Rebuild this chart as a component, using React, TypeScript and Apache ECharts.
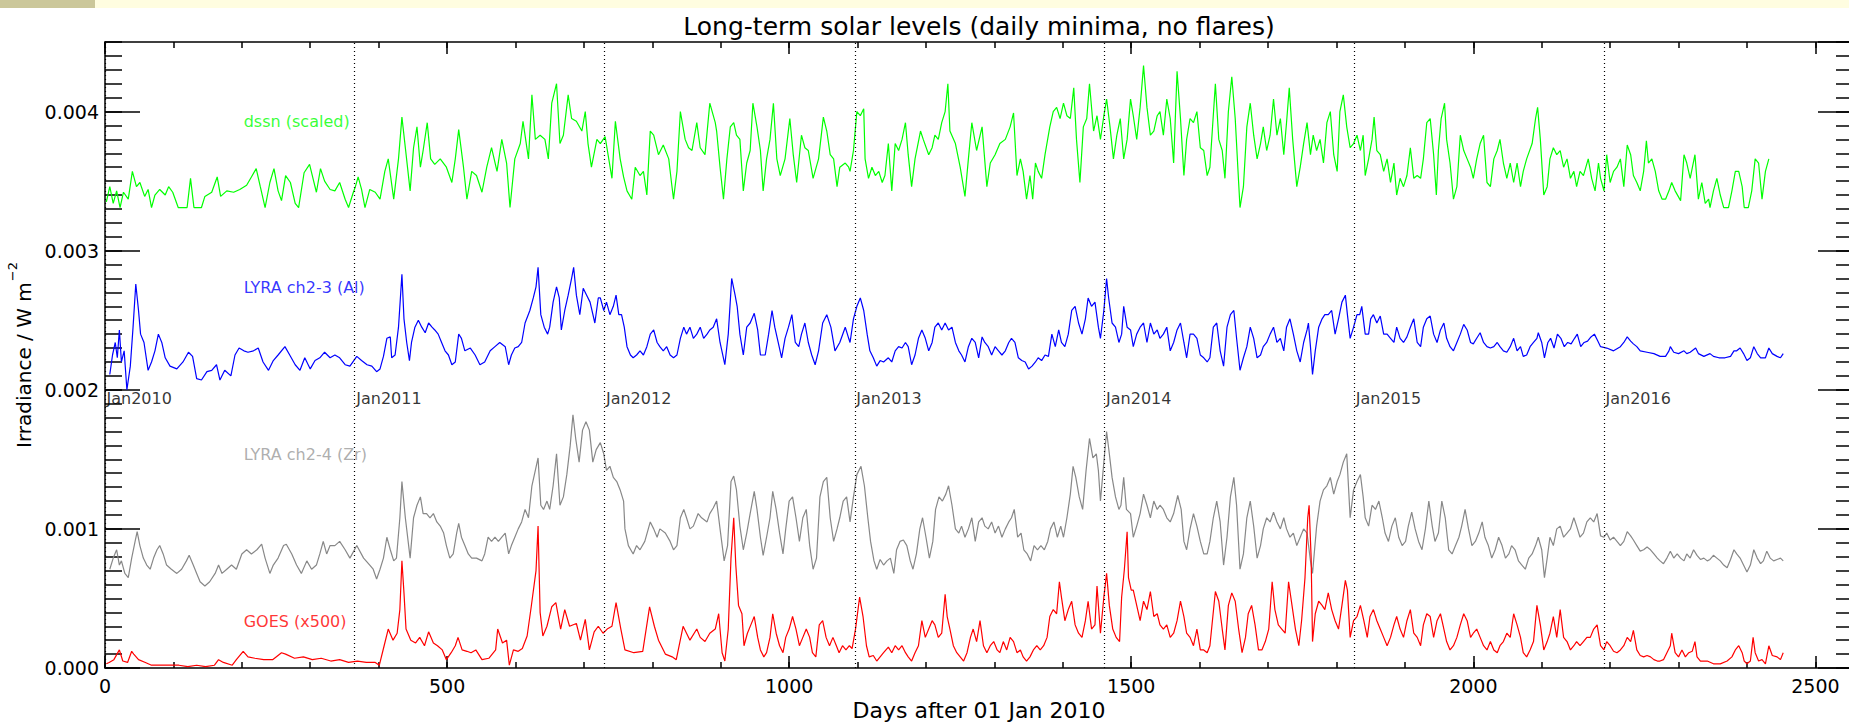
import React, { useEffect, useRef } from 'react';
import * as echarts from 'echarts';

// Values in units of 1e-3 W m^-2 (axis labels show W m^-2)
const dssnDays = [2,7,12,17,22,27,34,40,46,51,58,63,68,73,80,88,93,99,107,120,125,130,141,146,156,164,169,178,188,197,207,214,221,227,234,241,247,253,258,264,271,278,283,291,299,304,309,315,321,329,336,343,351,356,363,
366,370,375,380,387,395,402,409,414,422,429,434,439,446,451,456,461,465,471,476,482,490,499,507,512,517,524,529,536,543,551,558,565,573,580,587,592,599,607,611,619,624,629,636,643,648,653,660,665,670,677,682,689,697,702,706,711,719,
724,731,741,746,753,758,763,770,775,782,787,792,797,802,809,816,824,828,831,836,841,848,853,858,865,870,877,884,892,894,899,904,909,914,919,923,928,933,938,943,947,953,958,962,967,972,977,982,987,994,1001,1006,1011,1018,1023,1028,1035,1043,1050,1055,1060,1065,1070,1074,1082,1087,
1089,1094,1099,1104,1109,1111,1116,1121,1126,1131,1136,1140,1145,1150,1155,1160,1165,1170,1174,1179,1184,1192,1196,1204,1209,1213,1218,1223,1228,1232,1235,1243,1250,1257,1262,1267,1274,1282,1289,1294,1301,1308,1316,1323,1328,1333,1338,1342,1347,1352,1356,1360,1364,1369,1374,1381,1386,1391,1396,1401,1406,1411,1416,1420,1425,1430,1435,1439,1445,1450,
1455,1460,1464,1469,1474,1479,1484,1489,1494,1499,1503,1508,1513,1518,1523,1528,1533,1538,1542,1547,1552,1557,1562,1567,1572,1577,1581,1586,1591,1596,1601,1606,1611,1615,1623,1628,1633,1637,1642,1647,1652,1657,1659,1664,1669,1674,1679,1684,1689,1693,1698,1703,1708,1713,1718,1723,1727,1731,1736,1742,1747,1752,1757,1762,1766,1771,1776,1781,1786,1791,1796,1801,1805,1810,1815,
1820,1825,1830,1835,1839,1842,1847,1852,1855,1859,1864,1869,1874,1879,1884,1888,1893,1898,1903,1908,1913,1918,1923,1927,1932,1937,1942,1946,1949,1953,1958,1961,1966,1971,1976,1981,1986,1991,1996,2000,2005,2010,2015,2020,2025,2030,2035,2039,2044,2049,2054,2059,2064,2069,2073,2078,2086,2091,2094,2098,2103,2108,2112,2117,2122,2127,2132,2137,2142,2147,2151,2156,2161,2168,2173,2178,2183,
2186,2191,2195,2200,2205,2210,2215,2220,2225,2230,2234,2239,2244,2249,2253,2256,2261,2266,2271,2276,2281,2286,2290,2295,2303,2308,2312,2317,2324,2329,2334,2339,2344,2346,2351,2356,2361,2366,2373,2378,2383,2388,2393,2396,2402,2407,2412,2417,2422,2427,2432];
const dssnVals = [3.35,3.46,3.34,3.43,3.31,3.42,3.37,3.57,3.46,3.49,3.39,3.44,3.31,3.40,3.44,3.40,3.46,3.42,3.31,3.31,3.52,3.31,3.31,3.39,3.42,3.53,3.39,3.43,3.42,3.44,3.47,3.53,3.59,3.46,3.31,3.49,3.59,3.43,3.36,3.54,3.49,3.34,3.31,3.56,3.62,3.52,3.42,3.59,3.50,3.44,3.43,3.49,3.37,3.31,3.42,
3.46,3.53,3.44,3.31,3.44,3.42,3.37,3.57,3.66,3.37,3.66,3.96,3.74,3.43,3.74,3.89,3.60,3.72,3.92,3.66,3.62,3.66,3.60,3.49,3.66,3.87,3.60,3.37,3.57,3.54,3.42,3.60,3.74,3.57,3.80,3.63,3.31,3.66,3.77,3.93,3.66,4.12,3.80,3.83,3.80,3.66,4.06,4.20,3.77,3.83,4.12,3.95,3.93,3.86,4.00,3.77,3.60,3.80,
3.77,3.82,3.52,3.93,3.66,3.53,3.43,3.37,3.60,3.54,3.57,3.40,3.86,3.83,3.69,3.76,3.66,3.49,3.37,3.57,4.00,3.80,3.74,3.72,3.92,3.74,3.69,4.06,3.92,3.86,3.60,3.37,3.66,3.89,3.92,3.83,3.80,3.43,3.63,3.72,4.06,3.89,3.72,3.43,3.66,3.80,4.06,3.66,3.54,3.66,3.95,3.69,3.49,3.83,3.74,3.72,3.52,3.66,3.96,3.86,3.69,3.66,3.46,3.60,3.63,3.60,
3.57,3.72,4.00,3.97,4.02,3.66,3.52,3.60,3.54,3.57,3.49,3.54,3.77,3.43,3.77,3.72,3.80,3.92,3.69,3.46,3.66,3.86,3.80,3.69,3.74,3.83,3.80,3.92,4.00,4.20,3.86,3.77,3.60,3.39,3.66,3.92,3.72,3.89,3.46,3.63,3.69,3.77,3.80,3.89,3.99,3.54,3.66,3.57,3.37,3.54,3.37,3.63,3.57,3.52,3.69,3.89,4.00,4.03,3.95,4.06,3.97,3.95,4.17,3.80,3.49,3.89,3.95,4.20,3.86,3.97,
3.80,3.97,4.09,3.89,3.66,3.83,3.95,3.66,3.80,4.09,3.97,3.80,4.03,4.33,4.03,3.83,3.86,3.97,4.00,3.83,4.09,3.95,3.63,4.29,3.95,3.54,3.80,3.95,3.92,4.00,3.74,3.72,3.54,3.60,4.20,3.80,3.72,3.52,4.00,4.25,3.95,3.49,3.31,3.46,3.89,4.06,3.83,3.66,3.77,3.89,3.72,3.83,4.09,3.83,3.95,3.69,3.92,4.17,3.80,3.46,3.60,3.77,3.92,3.69,3.83,3.72,3.80,3.63,3.92,4.00,3.69,3.57,4.00,4.12,3.89,
3.74,3.77,3.83,3.72,3.83,3.54,3.66,3.80,3.96,3.72,3.69,3.57,3.66,3.49,3.63,3.40,3.52,3.46,3.54,3.74,3.52,3.54,3.52,3.66,3.92,3.95,3.69,3.40,3.72,3.95,4.06,3.80,3.63,3.37,3.46,3.83,3.72,3.66,3.60,3.52,3.66,3.77,3.83,3.49,3.46,3.66,3.72,3.80,3.63,3.52,3.63,3.49,3.63,3.46,3.57,3.66,3.77,3.95,4.03,3.80,3.40,3.46,3.66,3.74,3.69,3.72,3.60,3.66,3.52,3.57,3.46,3.57,3.54,3.66,3.52,3.43,3.63,
3.52,3.43,3.69,3.49,3.57,3.60,3.66,3.46,3.76,3.69,3.54,3.49,3.43,3.57,3.79,3.63,3.66,3.57,3.43,3.37,3.37,3.43,3.49,3.43,3.36,3.69,3.63,3.52,3.69,3.37,3.49,3.34,3.37,3.31,3.43,3.52,3.40,3.31,3.31,3.43,3.57,3.57,3.46,3.31,3.31,3.43,3.66,3.63,3.37,3.57,3.66];

const al23Days = [7,11,15,18,21,24,28,32,37,41,45,49,52,57,63,68,73,78,83,88,95,105,114,122,128,134,141,149,156,163,168,175,184,190,196,203,209,217,224,231,239,246,253,263,270,278,285,292,300,307,314,321,329,336,343,351,358,
368,375,383,390,397,402,407,412,417,419,424,429,434,437,441,445,448,453,458,463,468,473,478,482,487,492,497,502,507,512,517,521,526,534,541,548,555,563,570,577,585,590,594,599,604,609,614,621,626,630,633,637,642,647,650,655,660,664,667,672,677,682,685,689,694,699,704,709,716,721,
724,729,733,738,743,747,751,755,759,763,768,772,777,782,787,792,797,802,807,811,816,821,826,831,836,841,846,850,855,860,865,870,875,880,884,889,894,899,906,911,916,921,924,928,933,938,943,949,954,958,965,970,975,979,984,989,994,999,1004,1009,1014,1018,1023,1028,1033,1038,1043,1049,1055,1061,1067,1074,1082,1087,
1089,1094,1099,1104,1109,1114,1118,1123,1128,1133,1138,1145,1150,1155,1160,1165,1170,1174,1179,1184,1189,1194,1199,1204,1209,1213,1218,1223,1228,1233,1238,1243,1248,1252,1257,1262,1267,1272,1277,1282,1286,1291,1296,1301,1306,1311,1316,1321,1325,1330,1335,1340,1345,1350,1355,1360,1364,1369,1374,1379,1384,1389,1394,1398,1403,1408,1413,1418,1423,1428,1433,1437,1442,1447,1452,
1455,1460,1464,1467,1472,1477,1482,1486,1489,1494,1499,1503,1508,1513,1518,1523,1528,1533,1538,1542,1547,1552,1557,1562,1567,1572,1577,1581,1586,1591,1596,1601,1606,1611,1615,1620,1625,1630,1635,1640,1645,1650,1654,1659,1664,1669,1674,1679,1684,1689,1693,1698,1703,1708,1713,1718,1723,1727,1732,1737,1742,1747,1752,1757,1759,1762,1765,1769,1774,1779,1783,1788,1793,1798,1803,1808,1813,1816,
1820,1825,1830,1834,1837,1842,1847,1850,1854,1859,1864,1869,1874,1879,1884,1888,1893,1898,1903,1908,1913,1918,1923,1927,1932,1937,1942,1947,1952,1957,1961,1966,1971,1976,1981,1986,1991,1996,2000,2005,2010,2015,2020,2025,2030,2035,2039,2044,2049,2054,2059,2064,2069,2073,2078,2083,2088,2093,2095,2100,2104,2109,2113,2118,2123,2128,2133,2138,2143,2148,2152,2157,2162,2167,2172,2177,2182,
2186,2195,2205,2215,2220,2225,2230,2234,2239,2244,2254,2264,2273,2281,2286,2288,2293,2300,2308,2312,2317,2325,2329,2337,2346,2351,2359,2368,2376,2381,2385,2390,2395,2400,2405,2410,2415,2420,2427,2432,2437,2444,2449,2453];
const al23Vals = [2.11,2.25,2.34,2.23,2.43,2.20,2.28,2.00,2.17,2.45,2.76,2.57,2.40,2.34,2.14,2.20,2.28,2.40,2.34,2.23,2.17,2.15,2.20,2.27,2.24,2.08,2.07,2.13,2.14,2.18,2.07,2.14,2.10,2.25,2.30,2.28,2.27,2.28,2.30,2.20,2.14,2.21,2.25,2.31,2.25,2.18,2.14,2.23,2.15,2.21,2.23,2.27,2.23,2.25,2.23,2.18,2.17,
2.24,2.21,2.18,2.17,2.13,2.15,2.24,2.37,2.38,2.23,2.25,2.45,2.83,2.51,2.34,2.21,2.34,2.45,2.50,2.45,2.41,2.48,2.45,2.43,2.40,2.34,2.28,2.25,2.18,2.20,2.40,2.37,2.28,2.30,2.25,2.18,2.20,2.28,2.31,2.34,2.31,2.18,2.25,2.30,2.31,2.34,2.48,2.57,2.66,2.74,2.88,2.54,2.45,2.40,2.45,2.63,2.74,2.66,2.43,2.57,2.68,2.80,2.88,2.68,2.54,2.73,2.68,2.63,2.48,2.66,
2.66,2.57,2.63,2.54,2.60,2.68,2.54,2.54,2.45,2.31,2.25,2.23,2.25,2.28,2.25,2.31,2.40,2.43,2.34,2.31,2.28,2.31,2.25,2.23,2.25,2.37,2.45,2.40,2.45,2.37,2.40,2.45,2.37,2.40,2.43,2.45,2.51,2.34,2.18,2.40,2.80,2.68,2.60,2.40,2.25,2.45,2.48,2.55,2.43,2.25,2.25,2.40,2.57,2.45,2.34,2.23,2.37,2.45,2.54,2.34,2.31,2.40,2.48,2.34,2.25,2.18,2.28,2.48,2.54,2.45,2.28,2.34,2.45,2.37,
2.34,2.51,2.60,2.66,2.57,2.40,2.28,2.23,2.17,2.21,2.20,2.23,2.20,2.28,2.31,2.30,2.34,2.31,2.18,2.25,2.37,2.43,2.37,2.28,2.34,2.45,2.48,2.43,2.48,2.43,2.45,2.34,2.28,2.25,2.20,2.31,2.37,2.34,2.23,2.38,2.34,2.31,2.25,2.31,2.28,2.25,2.28,2.34,2.37,2.34,2.23,2.21,2.20,2.15,2.17,2.20,2.23,2.21,2.25,2.24,2.40,2.31,2.43,2.34,2.31,2.40,2.57,2.60,2.48,2.40,2.51,2.66,2.60,2.63,2.45,
2.37,2.57,2.80,2.66,2.48,2.45,2.34,2.40,2.60,2.45,2.43,2.31,2.40,2.45,2.48,2.34,2.48,2.40,2.43,2.37,2.40,2.45,2.28,2.34,2.43,2.48,2.34,2.23,2.40,2.40,2.37,2.25,2.23,2.20,2.23,2.45,2.48,2.28,2.17,2.45,2.54,2.57,2.37,2.14,2.23,2.31,2.45,2.37,2.23,2.25,2.31,2.34,2.40,2.45,2.34,2.37,2.28,2.45,2.51,2.40,2.28,2.20,2.34,2.43,2.48,2.31,2.11,2.28,2.45,2.51,2.54,2.54,2.57,2.40,2.51,2.63,2.68,2.54,
2.37,2.45,2.54,2.54,2.60,2.40,2.40,2.51,2.54,2.48,2.53,2.40,2.40,2.37,2.34,2.45,2.37,2.34,2.38,2.45,2.51,2.34,2.31,2.45,2.51,2.53,2.40,2.34,2.43,2.48,2.37,2.31,2.28,2.34,2.40,2.47,2.43,2.34,2.33,2.37,2.41,2.34,2.31,2.30,2.31,2.34,2.31,2.28,2.27,2.31,2.37,2.28,2.31,2.24,2.25,2.31,2.34,2.37,2.41,2.34,2.23,2.34,2.37,2.30,2.40,2.37,2.31,2.34,2.33,2.37,2.40,2.31,2.34,2.35,2.38,2.40,2.35,
2.31,2.30,2.28,2.31,2.34,2.38,2.35,2.33,2.31,2.28,2.27,2.26,2.24,2.24,2.28,2.31,2.27,2.26,2.28,2.26,2.27,2.30,2.26,2.24,2.26,2.24,2.23,2.23,2.24,2.28,2.28,2.30,2.26,2.21,2.23,2.31,2.26,2.23,2.23,2.30,2.26,2.24,2.23,2.26];

const zr24Days = [7,12,17,21,24,29,34,39,44,47,51,56,61,66,71,76,80,85,90,97,105,112,119,123,129,134,139,146,153,161,166,171,178,185,192,200,207,214,222,229,234,241,246,253,261,265,273,280,287,295,302,309,314,319,324,329,336,343,351,358,
368,378,387,392,397,402,407,412,417,422,426,431,434,439,446,451,456,461,465,470,475,480,485,490,495,499,504,509,514,517,521,526,531,536,543,551,555,560,565,570,575,580,585,590,594,599,604,609,614,619,624,629,633,637,641,646,650,655,660,665,670,675,680,684,688,693,698,703,708,713,718,
724,729,733,738,743,748,753,758,760,765,772,777,782,789,797,802,807,811,819,826,831,836,841,846,850,855,860,867,872,880,884,889,894,899,905,910,915,919,923,928,933,938,943,949,953,958,962,967,972,976,981,986,991,995,1000,1005,1010,1015,1020,1025,1030,1035,1040,1045,1050,1055,1060,1065,1070,1074,1079,1084,
1089,1094,1099,1105,1110,1115,1119,1124,1128,1133,1138,1143,1148,1153,1157,1162,1167,1172,1177,1181,1186,1191,1195,1200,1205,1210,1214,1219,1224,1229,1233,1238,1243,1248,1252,1257,1262,1267,1272,1277,1282,1286,1291,1296,1301,1306,1311,1316,1321,1325,1329,1334,1339,1343,1348,1353,1358,1363,1368,1373,1378,1382,1387,1392,1397,1401,1406,1411,1415,1419,1424,1429,1434,1439,1444,1449,1452,
1455,1460,1464,1468,1472,1477,1482,1485,1489,1493,1499,1503,1508,1513,1518,1523,1528,1533,1538,1542,1547,1552,1557,1562,1568,1573,1577,1581,1586,1591,1596,1601,1606,1611,1615,1620,1625,1630,1635,1640,1645,1650,1654,1659,1664,1669,1674,1679,1684,1689,1693,1698,1703,1708,1713,1718,1723,1727,1732,1737,1742,1747,1752,1757,1762,1765,1771,1776,1781,1786,1791,1796,1801,1805,1810,1815,
1820,1825,1830,1835,1839,1842,1847,1852,1857,1862,1867,1871,1876,1881,1886,1891,1896,1901,1905,1910,1915,1920,1925,1930,1935,1940,1944,1949,1954,1959,1964,1969,1974,1979,1983,1988,1993,1998,2003,2008,2013,2017,2022,2027,2032,2037,2042,2047,2052,2056,2061,2066,2071,2076,2081,2086,2091,2095,2100,2104,2108,2112,2117,2122,2127,2132,2137,2142,2147,2151,2156,2161,2166,2171,2176,2181,
2186,2191,2195,2200,2205,2210,2215,2220,2225,2230,2234,2239,2244,2249,2254,2259,2264,2269,2273,2278,2283,2288,2293,2298,2303,2308,2312,2317,2322,2327,2332,2337,2342,2346,2351,2356,2361,2366,2371,2376,2381,2385,2390,2395,2400,2405,2410,2415,2420,2424,2429,2434,2439,2444,2449,2453];
const zr24Vals = [0.71,0.79,0.85,0.74,0.77,0.68,0.65,0.79,0.91,0.98,0.88,0.79,0.74,0.71,0.79,0.85,0.88,0.82,0.74,0.71,0.68,0.71,0.77,0.81,0.74,0.68,0.62,0.59,0.62,0.68,0.74,0.68,0.71,0.74,0.71,0.82,0.85,0.82,0.85,0.89,0.79,0.68,0.74,0.79,0.88,0.89,0.82,0.74,0.68,0.77,0.71,0.74,0.82,0.91,0.82,0.88,0.88,0.91,0.85,0.79,
0.88,0.79,0.74,0.71,0.64,0.71,0.79,0.94,0.85,0.77,0.79,1.08,1.34,1.08,0.79,1.08,1.17,1.23,1.11,1.11,1.08,1.11,1.05,1.02,0.97,0.88,0.79,0.82,0.97,1.04,0.94,0.88,0.82,0.79,0.79,0.77,0.82,0.94,0.91,0.94,0.91,0.94,0.97,0.82,0.88,0.94,1.00,1.05,1.14,1.08,1.31,1.42,1.51,1.17,1.14,1.20,1.14,1.31,1.54,1.17,1.23,1.39,1.60,1.82,1.65,1.48,1.71,1.77,1.71,1.48,1.57,
1.62,1.54,1.42,1.45,1.37,1.34,1.28,1.20,1.00,0.88,0.82,0.88,0.85,0.91,1.05,1.00,0.94,1.00,0.97,0.91,0.85,0.88,1.08,1.14,1.08,1.00,1.02,1.11,1.08,1.05,1.11,1.15,1.20,1.00,0.77,0.88,1.34,1.38,1.28,1.02,0.85,0.97,1.11,1.27,1.14,0.94,0.81,0.94,1.08,1.27,1.14,0.97,0.82,1.00,1.20,1.23,1.08,0.91,1.08,1.14,0.88,0.71,0.79,1.23,1.34,1.37,1.08,0.91,1.00,1.08,1.20,1.23,
1.05,1.23,1.39,1.45,1.31,1.08,0.91,0.77,0.71,0.78,0.74,0.77,0.79,0.68,0.85,0.91,0.92,0.88,0.77,0.71,0.82,1.00,1.08,0.94,0.79,0.91,1.14,1.23,1.20,1.25,1.31,1.17,1.00,0.97,1.02,0.94,1.00,1.08,0.91,1.05,1.08,1.02,1.00,1.05,0.97,1.02,0.94,1.00,1.05,1.08,1.14,0.94,0.97,0.85,0.82,0.77,0.88,0.85,0.88,0.85,0.91,1.00,1.05,0.94,1.02,0.94,1.08,1.25,1.45,1.37,1.23,1.14,1.42,1.65,1.51,1.54,1.42,
1.20,1.48,1.70,1.54,1.37,1.23,1.14,1.17,1.37,1.14,1.11,0.94,1.02,1.11,1.25,1.17,1.08,1.20,1.14,1.17,1.14,1.08,1.05,1.11,1.24,1.14,0.91,0.85,1.00,1.11,1.02,0.91,0.82,0.82,0.91,1.08,1.20,1.05,0.74,0.94,1.23,1.37,1.17,0.71,0.82,1.08,1.20,1.02,0.79,0.88,1.00,1.08,1.05,1.12,1.05,1.00,1.08,1.00,0.94,0.97,0.88,0.94,1.00,0.97,0.77,0.68,1.02,1.20,1.28,1.31,1.37,1.25,1.34,1.39,1.48,1.54,
1.08,1.28,1.34,1.39,1.23,1.08,1.02,1.17,1.14,1.20,1.08,0.97,0.91,1.02,1.08,0.94,0.88,0.91,1.02,1.12,1.00,0.91,0.85,1.00,1.20,1.02,0.91,0.97,1.20,1.08,0.85,0.82,0.88,0.94,1.02,1.14,1.00,0.88,0.91,0.97,1.05,0.94,0.88,0.79,0.85,0.94,0.88,0.79,0.82,0.88,0.85,0.77,0.74,0.71,0.79,0.82,0.88,0.94,0.85,0.65,0.79,0.94,0.88,1.00,1.02,0.94,0.97,1.00,1.08,1.02,0.94,0.97,1.05,1.08,1.05,1.11,
0.95,0.94,0.97,0.92,0.94,0.91,0.88,0.91,0.98,0.95,0.92,0.88,0.84,0.85,0.87,0.85,0.82,0.79,0.77,0.75,0.79,0.84,0.79,0.82,0.79,0.77,0.82,0.79,0.85,0.81,0.78,0.79,0.77,0.78,0.81,0.79,0.77,0.74,0.72,0.78,0.85,0.82,0.79,0.74,0.69,0.74,0.85,0.79,0.75,0.77,0.84,0.79,0.77,0.78,0.79,0.77];

const goesDays = [2,6,13,21,26,33,39,42,49,59,68,82,95,108,121,134,147,160,166,173,186,192,202,209,219,232,245,258,264,277,290,303,316,330,343,356,369,382,395,401,408,414,421,427,431,434,437,440,447,454,460,467,473,480,486,493,499,506,512,516,522,529,535,542,551,561,571,574,581,587,591,597,604,610,617,623,630,633,636,640,646,653,659,666,672,679,689,695,702,708,715,721,728,734,741,747,754,760,773,786,796,803,809,819,829,835,845,855,865,
870,877,884,892,897,902,906,911,915,919,922,926,931,934,939,944,949,954,958,963,967,972,976,981,986,991,995,1000,1005,1010,1015,1020,1025,1030,1034,1039,1044,1049,1054,1059,1064,1069,1073,1078,1083,1088,
1092,1097,1103,1108,1113,1117,1123,1128,1133,1138,1145,1150,1155,1160,1165,1170,1174,1179,1184,1189,1194,1199,1204,1209,1213,1218,1223,1228,1231,1235,1240,1245,1250,1255,1260,1265,1269,1274,1279,1284,1289,1294,1299,1304,1308,1313,1318,1323,1328,1333,1338,1342,1347,1352,1357,1362,1367,1372,1377,1381,1386,1391,1395,1398,1403,1408,1413,1418,1423,1428,1433,1437,1442,1447,1450,
1455,1460,1464,1468,1473,1478,1483,1486,1490,1494,1496,1500,1503,1508,1513,1518,1523,1528,1533,1538,1542,1547,1552,1557,1562,1567,1572,1577,1581,1586,1591,1596,1601,1606,1611,1615,1623,1628,1633,1637,1642,1647,1652,1657,1662,1667,1671,1676,1681,1686,1691,1696,1701,1706,1710,1715,1720,1725,1730,1735,1740,1745,1749,1754,1758,1760,1763,1765,1769,1774,1779,1783,1788,1793,1798,1803,1808,1813,1816,
1820,1825,1830,1835,1840,1845,1849,1854,1859,1864,1869,1874,1879,1884,1888,1893,1898,1903,1908,1913,1918,1923,1927,1932,1937,1942,1947,1952,1957,1961,1966,1971,1976,1981,1986,1991,1996,2000,2005,2010,2015,2020,2025,2030,2035,2039,2044,2049,2054,2059,2064,2069,2073,2078,2083,2088,2093,2098,2103,2108,2112,2117,2122,2127,2132,2137,2142,2147,2151,2156,2161,2166,2171,2176,2181,
2186,2191,2195,2200,2205,2210,2215,2220,2225,2230,2234,2239,2244,2249,2254,2259,2264,2269,2273,2278,2283,2288,2290,2295,2300,2305,2310,2315,2320,2324,2327,2332,2342,2351,2361,2371,2378,2383,2388,2393,2396,2400,2405,2409,2412,2417,2422,2427,2432,2437,2444,2449,2453];
const goesVals = [0.03,0.04,0.06,0.13,0.05,0.04,0.12,0.10,0.06,0.04,0.02,0.02,0.02,0.02,0.01,0.02,0.01,0.02,0.06,0.04,0.02,0.06,0.12,0.08,0.07,0.06,0.06,0.11,0.10,0.07,0.08,0.06,0.07,0.05,0.06,0.04,0.05,0.04,0.04,0.02,0.16,0.28,0.20,0.25,0.42,0.77,0.54,0.28,0.20,0.18,0.22,0.16,0.26,0.18,0.16,0.13,0.06,0.11,0.16,0.22,0.13,0.12,0.11,0.13,0.06,0.07,0.13,0.28,0.18,0.20,0.02,0.13,0.12,0.14,0.23,0.44,0.70,1.02,0.40,0.23,0.30,0.44,0.47,0.28,0.42,0.30,0.32,0.20,0.35,0.13,0.26,0.30,0.25,0.28,0.30,0.47,0.28,0.13,0.11,0.12,0.44,0.30,0.20,0.10,0.08,0.06,0.30,0.20,0.28,
0.22,0.19,0.25,0.28,0.39,0.11,0.05,0.28,0.79,1.08,0.74,0.45,0.39,0.16,0.25,0.31,0.37,0.22,0.13,0.08,0.11,0.22,0.39,0.25,0.16,0.11,0.22,0.28,0.37,0.28,0.16,0.22,0.28,0.22,0.11,0.08,0.31,0.34,0.22,0.16,0.22,0.16,0.11,0.16,0.13,0.16,
0.14,0.28,0.51,0.37,0.16,0.08,0.09,0.05,0.08,0.11,0.15,0.11,0.16,0.13,0.16,0.11,0.08,0.05,0.11,0.16,0.34,0.22,0.28,0.34,0.31,0.22,0.25,0.53,0.37,0.28,0.16,0.11,0.08,0.05,0.11,0.22,0.28,0.19,0.34,0.16,0.11,0.16,0.19,0.13,0.11,0.19,0.13,0.22,0.19,0.11,0.13,0.08,0.05,0.08,0.13,0.16,0.13,0.16,0.22,0.37,0.42,0.39,0.62,0.51,0.34,0.42,0.48,0.31,0.25,0.22,0.34,0.48,0.28,0.31,0.59,
0.25,0.51,0.68,0.45,0.28,0.22,0.19,0.51,0.71,0.98,0.65,0.56,0.56,0.45,0.34,0.48,0.42,0.55,0.37,0.39,0.31,0.28,0.31,0.22,0.25,0.34,0.48,0.37,0.25,0.22,0.16,0.28,0.13,0.13,0.11,0.16,0.55,0.48,0.28,0.13,0.45,0.54,0.48,0.28,0.11,0.22,0.39,0.45,0.31,0.13,0.13,0.19,0.28,0.62,0.42,0.31,0.28,0.25,0.62,0.45,0.28,0.16,0.34,0.65,1.08,1.17,0.79,0.19,0.39,0.48,0.45,0.42,0.54,0.42,0.34,0.28,0.45,0.63,0.56,
0.22,0.34,0.37,0.45,0.34,0.22,0.37,0.42,0.34,0.28,0.22,0.16,0.22,0.31,0.37,0.28,0.22,0.34,0.42,0.25,0.22,0.16,0.31,0.39,0.37,0.22,0.34,0.39,0.28,0.19,0.13,0.16,0.22,0.31,0.39,0.34,0.22,0.25,0.28,0.22,0.16,0.13,0.19,0.13,0.11,0.16,0.19,0.25,0.22,0.39,0.31,0.22,0.11,0.08,0.13,0.19,0.45,0.31,0.13,0.19,0.25,0.37,0.22,0.42,0.22,0.19,0.13,0.16,0.19,0.16,0.19,0.22,0.22,0.28,0.31,
0.16,0.13,0.19,0.16,0.12,0.11,0.13,0.16,0.22,0.19,0.27,0.13,0.09,0.08,0.09,0.08,0.06,0.05,0.05,0.06,0.11,0.16,0.25,0.11,0.08,0.13,0.08,0.11,0.12,0.19,0.08,0.05,0.05,0.03,0.03,0.05,0.08,0.13,0.16,0.11,0.05,0.03,0.05,0.22,0.11,0.05,0.06,0.03,0.16,0.09,0.08,0.06,0.11];

const seriesNames = ['dssn (scaled)', 'LYRA ch2-3 (Al)', 'LYRA ch2-4 (Zr)', 'GOES (x500)'];
const seriesLabelDay = 202;
const seriesLabelLevels = [3.93, 2.735, 1.537, 0.333];

const yearDays = [0, 365, 730, 1096, 1461, 1826, 2191];
const yearLabels = ['Jan2010', 'Jan2011', 'Jan2012', 'Jan2013', 'Jan2014', 'Jan2015', 'Jan2016'];
const yearLabelLevel = 1.938;

const X_MAX = 2555;
const Y_MAX = 4.5;
const FONT = 'DejaVu Sans';
const COLORS = ['#00ff00', '#0000ff', '#888888', '#ff0000'];
const LABEL_COLORS = ['#00ff00', '#0000ff', '#999999', '#ff0000'];

export default function App() {
  const ref = useRef<HTMLDivElement>(null);
  useEffect(() => {
    document.body.style.margin = '0';
    const chart = echarts.init(ref.current as HTMLDivElement, null, { renderer: 'svg' });
    const zip = (d: number[], v: number[]) => d.map((x, i) => [x, v[i]]);
    const axLine = { color: '#000', width: 1.5 };
    const mkX = (pos: string, interval: number, len: number, labels: boolean, line: boolean) => ({
      type: 'value', position: pos, min: 0, max: X_MAX, interval,
      axisLine: { show: line, onZero: false, lineStyle: axLine },
      axisTick: { show: true, inside: true, length: len, lineStyle: axLine },
      axisLabel: {
        show: labels, showMaxLabel: false, color: '#000', fontSize: 19, fontFamily: FONT, margin: 8,
        formatter: (v: number) => String(v),
      },
      splitLine: { show: false },
    });
    const mkY = (pos: string, interval: number, len: number, labels: boolean, line: boolean) => ({
      type: 'value', position: pos, min: 0, max: Y_MAX, interval,
      axisLine: { show: line, onZero: false, lineStyle: axLine },
      axisTick: { show: true, inside: true, length: len, lineStyle: axLine },
      axisLabel: {
        show: labels, showMaxLabel: false, color: '#000', fontSize: 19, fontFamily: FONT, margin: 6,
        formatter: (v: number) => (v / 1000).toFixed(3),
      },
      splitLine: { show: false },
    });
    const xMajor: any = mkX('bottom', 500, 12, true, true);
    xMajor.name = 'Days after 01 Jan 2010';
    xMajor.nameLocation = 'middle';
    xMajor.nameGap = 23;
    xMajor.nameTextStyle = { color: '#000', fontSize: 22, lineHeight: 22, fontFamily: FONT };
    const yMajor: any = mkY('left', 1, 35, true, true);
    yMajor.name = '{a|Irradiance / W m}{b|−2}';
    yMajor.nameLocation = 'middle';
    yMajor.nameGap = 70;
    yMajor.nameTextStyle = {
      color: '#000', fontFamily: FONT,
      rich: {
        a: { fontSize: 20, fontFamily: FONT, color: '#000', lineHeight: 28, verticalAlign: 'bottom' },
        b: { fontSize: 13, fontFamily: FONT, color: '#000', lineHeight: 28, verticalAlign: 'top', padding: [0, 0, 0, 1] },
      },
    };
    const lineSeries = [
      [dssnDays, dssnVals], [al23Days, al23Vals], [zr24Days, zr24Vals], [goesDays, goesVals],
    ].map(([d, v], i) => ({
      type: 'line', name: seriesNames[i], data: zip(d as number[], v as number[]),
      xAxisIndex: 0, yAxisIndex: 0, showSymbol: false, symbol: 'none', silent: true,
      lineStyle: { color: COLORS[i], width: 1.2 }, itemStyle: { color: COLORS[i] },
      z: 3,
      markLine: i === 0 ? {
        silent: true, symbol: 'none', label: { show: false },
        lineStyle: { color: '#000', type: [1, 3], width: 1.2 },
        data: yearDays.map((d2) => ({ xAxis: d2 })),
      } : undefined,
    }));
    chart.setOption({
      animation: false,
      backgroundColor: '#ffffff',
      grid: { left: 105, top: 42, width: 1748, height: 626, containLabel: false, outerBoundsMode: 'none' },
      xAxis: [
        xMajor,
        mkX('bottom', 100, 6, false, false),
        mkX('top', 500, 12, false, true),
        mkX('top', 100, 6, false, false),
      ],
      yAxis: [
        yMajor,
        mkY('left', 0.1, 17, false, false),
        mkY('right', 1, 35, false, true),
        mkY('right', 0.1, 17, false, false),
      ],
      graphic: [
        { type: 'rect', shape: { x: 0, y: 0, width: 1849, height: 8 }, style: { fill: '#fffde0' }, silent: true },
        { type: 'rect', shape: { x: 0, y: 0, width: 95, height: 8 }, style: { fill: '#cbc79a' }, silent: true },
        {
          type: 'text', x: 979, y: 26, silent: true,
          style: {
            text: 'Long-term solar levels (daily minima, no flares)', fill: '#000',
            fontSize: 25, fontFamily: FONT, align: 'center', verticalAlign: 'middle',
          },
        },
      ],
      series: [
        ...lineSeries,
        {
          type: 'scatter', xAxisIndex: 0, yAxisIndex: 0, silent: true, symbolSize: 1,
          itemStyle: { color: 'rgba(0,0,0,0)' },
          data: yearDays.map((d, i) => ({ value: [d, yearLabelLevel], name: yearLabels[i] })),
          label: { show: true, position: 'right', distance: 1, formatter: '{b}', color: '#000', fontSize: 16, fontFamily: FONT },
          z: 4,
        },
        {
          type: 'scatter', xAxisIndex: 0, yAxisIndex: 0, silent: true, symbolSize: 1,
          itemStyle: { color: 'rgba(0,0,0,0)' },
          data: seriesNames.map((n, i) => ({
            value: [seriesLabelDay, seriesLabelLevels[i]], name: n,
            label: { color: LABEL_COLORS[i] },
          })),
          label: { show: true, position: 'right', distance: 0, formatter: '{b}', fontSize: 16, fontFamily: FONT },
          z: 4,
        },
      ],
    });
    return () => chart.dispose();
  }, []);
  return <div ref={ref} style={{ width: 1849, height: 723, background: '#fff' }} />;
}
